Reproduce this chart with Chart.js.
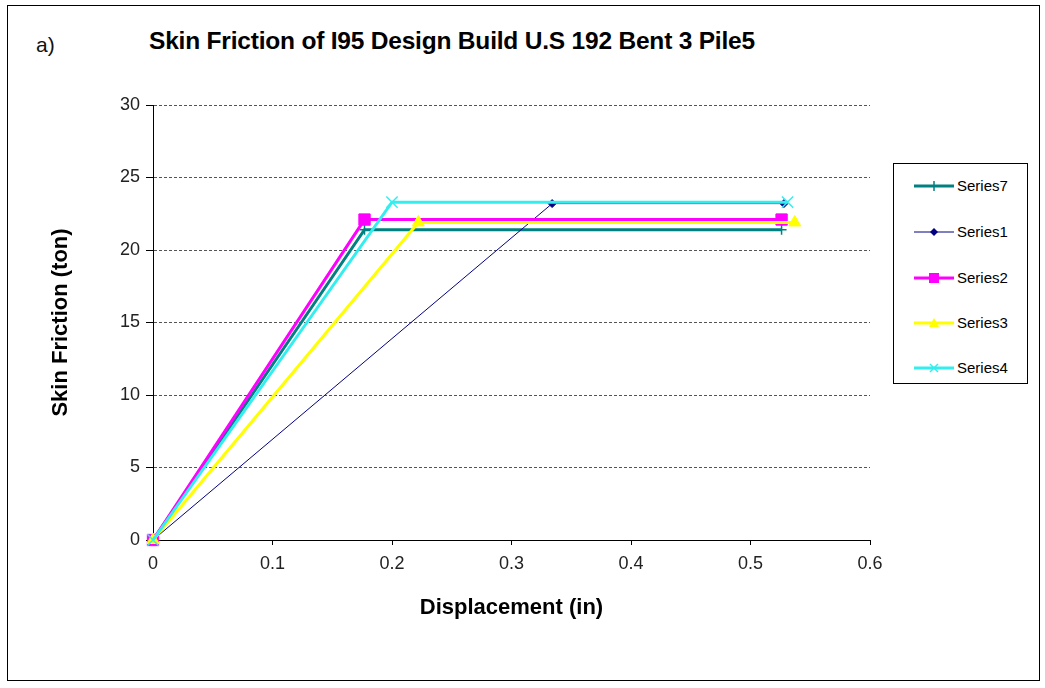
<!DOCTYPE html>
<html>
<head>
<meta charset="utf-8">
<script src="https://cdn.jsdelivr.net/npm/chart.js@4"></script>
<style>
  body { margin: 0; background: #fff; font-family: "Liberation Sans", Arial, sans-serif; }
  #wrap { position: relative; width: 1045px; height: 688px; }
  #frame { position: absolute; left: 7px; top: 5px; width: 1031px; height: 674px; border: 1px solid #000; }
  #tag { position: absolute; left: 36px; top: 33px; font-size: 21px; color: #111; }
  #title { position: absolute; left: 149px; top: 27px; font-size: 24.5px; font-weight: bold; color: #000; white-space: nowrap; letter-spacing: -0.2px; }
  #legend { position: absolute; left: 893px; top: 163px; width: 133px; height: 219px; border: 1px solid #000; background: #fff; }
  .item { position: absolute; left: 19px; height: 20px; font-size: 15px; color: #000; }
  .item svg { position: absolute; left: 0; top: 0; }
  .item span { position: absolute; left: 44px; top: 1px; }
  canvas { position: absolute; left: 0; top: 0; }
</style>
</head>
<body>
<div id="wrap">
  <div id="frame"></div>
  <div id="tag">a)</div>
  <div id="title">Skin Friction of I95 Design Build U.S 192 Bent 3 Pile5</div>
  <canvas id="graf" width="1045" height="688"></canvas>
  <div id="legend"></div>
</div>
<script>
const seriesNames = ['Series7', 'Series1', 'Series2', 'Series3', 'Series4'];
const xTicks = ['0', '0.1', '0.2', '0.3', '0.4', '0.5', '0.6'];

// displacement (in) / skin friction (ton) per series
const s7x = [0, 0.177, 0.526];
const s7y = [0, 21.4, 21.4];
const s1x = [0, 0.334, 0.528];
const s1y = [0, 23.2, 23.2];
const s2x = [0, 0.177, 0.526];
const s2y = [0, 22.1, 22.1];
const s3x = [0, 0.222, 0.537];
const s3y = [0, 21.9, 21.9];
const s4x = [0, 0.200, 0.531];
const s4y = [0, 23.3, 23.3];

const colores = ['#008080', '#000080', '#ff00ff', '#ffff00', '#33eeee'];
const anchos = [3, 1, 3, 3, 3];
const marcas = ['cross', 'rectRot', 'rect', 'triangle', 'crossRot'];
const radios = [5, 4, 8, 7, 8];

function pares(xs, ys) {
  return xs.map((x, i) => ({ x: x, y: ys[i] }));
}
const puntos = [pares(s7x, s7y), pares(s1x, s1y), pares(s2x, s2y), pares(s3x, s3y), pares(s4x, s4y)];

const datasets = seriesNames.map((n, i) => ({
  label: n,
  data: puntos[i],
  showLine: true,
  clip: false,
  borderColor: colores[i],
  backgroundColor: colores[i],
  borderWidth: anchos[i],
  pointStyle: marcas[i],
  pointRadius: radios[i],
  pointBorderWidth: (marcas[i] === 'cross' || marcas[i] === 'crossRot') ? 1.5 : 1,
  pointBorderColor: colores[i],
  pointBackgroundColor: colores[i],
  order: 4 - i
}));

const fuenteTick = { family: 'Liberation Sans', size: 18 };
const fuenteTitulo = { family: 'Liberation Sans', size: 22, weight: 'bold' };

new Chart('graf', {
  type: 'scatter',
  data: { datasets: datasets },
  options: {
    responsive: false,
    animation: false,
    layout: { padding: { left: 44, top: 105, right: 175, bottom: 63 } },
    plugins: { legend: { display: false }, tooltip: { enabled: false } },
    scales: {
      x: {
        type: 'linear', min: 0, max: 0.6,
        ticks: { stepSize: 0.1, padding: 8, color: '#222', font: fuenteTick,
          callback: (v, i) => xTicks[i] },
        grid: { color: 'rgba(0,0,0,0)', tickColor: '#000', tickLength: 5, drawOnChartArea: false },
        border: { display: true, color: '#000', width: 1 },
        title: { display: true, text: 'Displacement (in)', color: '#000', font: fuenteTitulo },
        afterFit: s => { s.height = 85; }
      },
      y: {
        type: 'linear', min: 0, max: 30,
        ticks: { stepSize: 5, padding: 6, color: '#222', font: fuenteTick },
        grid: { tickColor: '#000', tickLength: 7, color: c => c.tick && c.tick.value === 0 ? 'rgba(0,0,0,0)' : '#555', lineWidth: 1 },
        border: { display: true, color: '#000', width: 1, dash: [3, 2] },
        title: { display: true, text: 'Skin Friction (ton)', color: '#000', font: fuenteTitulo },
        afterFit: s => { s.width = 109; }
      }
    }
  }
});

// leyenda al estilo excel
const leyenda = document.getElementById('legend');
const tops = [12, 58, 104, 149, 194];
seriesNames.forEach((n, i) => {
  const d = document.createElement('div');
  d.className = 'item';
  d.style.top = tops[i] + 'px';
  const c = colores[i];
  let m = '';
  if (marcas[i] === 'cross') m = `<line x1="21" y1="5" x2="21" y2="15" stroke="${c}" stroke-width="1.5"/>`;
  if (marcas[i] === 'rectRot') m = `<polygon points="21,6 25,10 21,14 17,10" fill="${c}"/>`;
  if (marcas[i] === 'rect') m = `<rect x="16" y="5" width="10" height="10" fill="${c}"/>`;
  if (marcas[i] === 'triangle') m = `<polygon points="21,5 26,14 16,14" fill="${c}"/>`;
  if (marcas[i] === 'crossRot') m = `<path d="M17 6 L25 14 M25 6 L17 14" stroke="${c}" stroke-width="1.5"/>`;
  d.innerHTML = `<svg width="44" height="20"><line x1="1" y1="10" x2="41" y2="10" stroke="${c}" stroke-width="${anchos[i]}"/>${m}</svg><span>${n}</span>`;
  leyenda.appendChild(d);
});
</script>
</body>
</html>
